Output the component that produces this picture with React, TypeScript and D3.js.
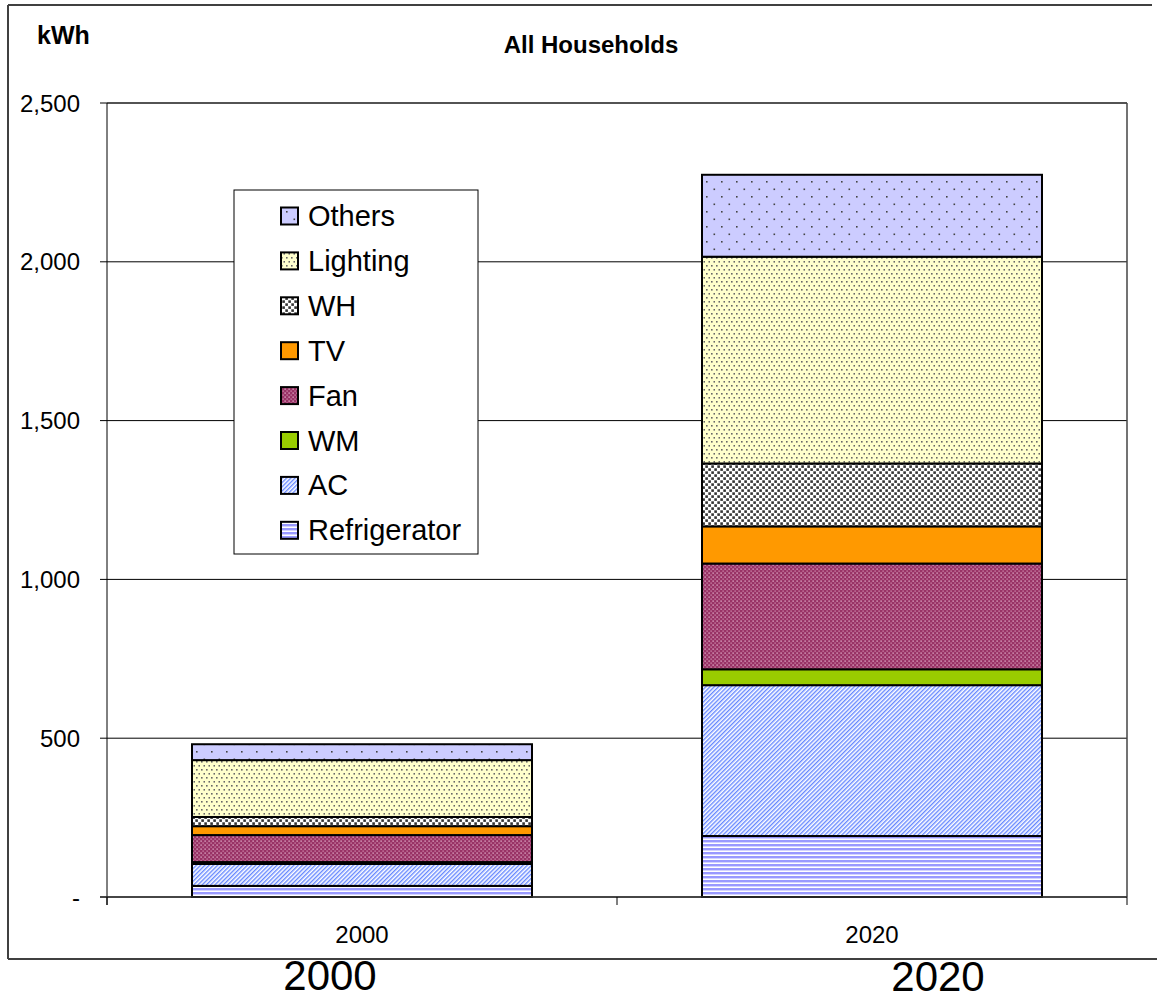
import React from "react";
import * as d3 from "d3";

const categories = ["2000", "2020"];
const seriesNames = ["Refrigerator", "AC", "WM", "Fan", "TV", "WH", "Lighting", "Others"];
const refrigerator = [35, 192];
const ac = [69, 475];
const wm = [6, 50];
const fan = [85, 333];
const tv = [28, 117];
const wh = [29, 198];
const lighting = [179, 651];
const others = [50, 258];
const yTicks = [0, 500, 1000, 1500, 2000, 2500];
const title = "All Households";
const unitLabel = "kWh";

const seriesValues: Record<string, number[]> = {
  Refrigerator: refrigerator,
  AC: ac,
  WM: wm,
  Fan: fan,
  TV: tv,
  WH: wh,
  Lighting: lighting,
  Others: others,
};

const fills: Record<string, string> = {
  Refrigerator: "url(#pRef)",
  AC: "url(#pAC)",
  WM: "#99CC00",
  Fan: "url(#pFan)",
  TV: "#FF9900",
  WH: "url(#pWH)",
  Lighting: "url(#pLight)",
  Others: "url(#pOthers)",
};

const FONT = "'Liberation Sans', Arial, sans-serif";

export default function App() {
  const W = 1157;
  const H = 1000;
  const left = 107, right = 1127, top = 103, bottom = 897;

  const table = categories.map((c, i) => {
    const row: any = { cat: c };
    seriesNames.forEach((s) => (row[s] = seriesValues[s][i]));
    return row;
  });
  const stacked = d3.stack<any>().keys(seriesNames)(table);

  const y = d3.scaleLinear().domain([0, 2500]).range([bottom, top]);
  const xCat = d3.scaleBand().domain(categories).range([left, right]).padding(0);
  const xBar = d3
    .scaleBand()
    .domain(categories)
    .range([left, right])
    .paddingInner(1 / 3)
    .paddingOuter(1 / 6);

  const fmt = (v: number) => (v === 0 ? "-" : d3.format(",")(v));

  const legendItems = [...seriesNames].reverse();
  const lgX = 234, lgY = 190, lgW = 244, lgH = 364;

  return (
    <svg
      width={W}
      height={H}
      style={{ position: "absolute", left: 0, top: 0, background: "#fff" }}
      fontFamily={FONT}
    >
      <defs>
        <pattern id="pOthers" width={15} height={15} patternUnits="userSpaceOnUse">
          <rect width={15} height={15} fill="#CCCCFF" />
          <rect x={1} y={1} width={1.6} height={1.6} fill="#444" />
          <rect x={8.5} y={8.5} width={1.6} height={1.6} fill="#444" />
        </pattern>
        <pattern id="pLight" width={5} height={8} patternUnits="userSpaceOnUse">
          <rect width={5} height={8} fill="#FFFFCC" />
          <rect x={1} y={1} width={1.6} height={1.6} fill="#666" />
          <rect x={3.5} y={5} width={1.6} height={1.6} fill="#666" />
        </pattern>
        <pattern id="pWH" width={6} height={6} patternUnits="userSpaceOnUse">
          <rect width={6} height={6} fill="#fff" />
          <rect x={0.3} y={0.3} width={2.6} height={2.6} fill="#333" />
          <rect x={3.3} y={3.3} width={2.6} height={2.6} fill="#333" />
        </pattern>
        <pattern id="pFan" width={4} height={4} patternUnits="userSpaceOnUse">
          <rect width={4} height={4} fill="#993366" />
          <rect x={0.5} y={0.5} width={1.2} height={1.2} fill="#F2CCE0" />
          <rect x={2.5} y={2.5} width={1.2} height={1.2} fill="#D899BA" />
        </pattern>
        <pattern
          id="pAC"
          width={3}
          height={3}
          patternUnits="userSpaceOnUse"
          patternTransform="rotate(45)"
        >
          <rect width={3} height={3} fill="#fff" />
          <rect x={0} y={0} width={1.4} height={3} fill="#6688FF" />
        </pattern>
        <pattern id="pRef" width={4} height={4} patternUnits="userSpaceOnUse">
          <rect width={4} height={4} fill="#fff" />
          <rect x={0} y={0} width={4} height={2} fill="#9999FF" />
          <rect x={0} y={2} width={4} height={0.8} fill="#C8C8FF" />
        </pattern>
      </defs>

      {/* outer frame */}
      <line x1={8} y1={5} x2={1152} y2={5} stroke="#404040" strokeWidth={2} />
      <line x1={8} y1={5} x2={8} y2={959} stroke="#404040" strokeWidth={2} />
      <line x1={8} y1={959} x2={1157} y2={959} stroke="#404040" strokeWidth={2} />

      {/* unit label and title */}
      <text x={37} y={44} fontSize={25} fontWeight="bold" fill="#000">
        {unitLabel}
      </text>
      <text x={591} y={53} fontSize={24} fontWeight="bold" textAnchor="middle" fill="#000">
        {title}
      </text>

      {/* gridlines */}
      {yTicks.map((t) => (
        <line key={"g" + t} x1={left} x2={right} y1={y(t)} y2={y(t)} stroke="#000" strokeWidth={1} />
      ))}
      {/* plot frame */}
      <line x1={left} y1={top} x2={right} y2={top} stroke="#444" strokeWidth={1.5} />
      <line x1={right} y1={top} x2={right} y2={bottom} stroke="#444" strokeWidth={1.5} />
      <line x1={left} y1={top} x2={left} y2={bottom + 8} stroke="#000" strokeWidth={1} />

      {/* y ticks */}
      {yTicks.map((t) => (
        <g key={"t" + t}>
          <line x1={left - 7} x2={left} y1={y(t)} y2={y(t)} stroke="#000" />
          <text x={80} y={y(t) + 8.5} fontSize={24} textAnchor="end" fill="#000">
            {fmt(t)}
          </text>
        </g>
      ))}

      {/* bars */}
      {stacked.map((layer) => (
        <g key={layer.key}>
          {layer.map((d: any, i: number) => (
            <rect
              key={i}
              x={xBar(categories[i])}
              width={xBar.bandwidth()}
              y={y(d[1])}
              height={y(d[0]) - y(d[1])}
              fill={fills[layer.key]}
              stroke="#000"
              strokeWidth={2}
            />
          ))}
        </g>
      ))}

      {/* x axis */}
      <line x1={left - 7} x2={right} y1={bottom} y2={bottom} stroke="#333" strokeWidth={1.5} />
      {[left, ...categories.map((c) => (xCat(c) as number) + xCat.bandwidth())].map((xx, i) => (
        <line key={"xt" + i} x1={xx} x2={xx} y1={bottom} y2={bottom + 8} stroke="#000" />
      ))}
      {categories.map((c) => (
        <text
          key={"xl" + c}
          x={(xCat(c) as number) + xCat.bandwidth() / 2}
          y={943}
          fontSize={24}
          textAnchor="middle"
          fill="#000"
        >
          {c}
        </text>
      ))}

      {/* legend */}
      <rect x={lgX} y={lgY} width={lgW} height={lgH} fill="#fff" stroke="#000" strokeWidth={1} />
      {legendItems.map((s, i) => {
        const base = 226 + i * 44.9;
        return (
          <g key={"lg" + s}>
            <rect
              x={281}
              y={base - 18.5}
              width={17}
              height={17}
              fill={fills[s]}
              stroke="#000"
              strokeWidth={2}
            />
            <text x={308} y={base} fontSize={29} fill="#000">
              {s}
            </text>
          </g>
        );
      })}

      {/* big labels below */}
      <text x={330} y={990} fontSize={42} textAnchor="middle" fill="#000">
        {categories[0]}
      </text>
      <text x={938} y={991} fontSize={42} textAnchor="middle" fill="#000">
        {categories[1]}
      </text>
    </svg>
  );
}
